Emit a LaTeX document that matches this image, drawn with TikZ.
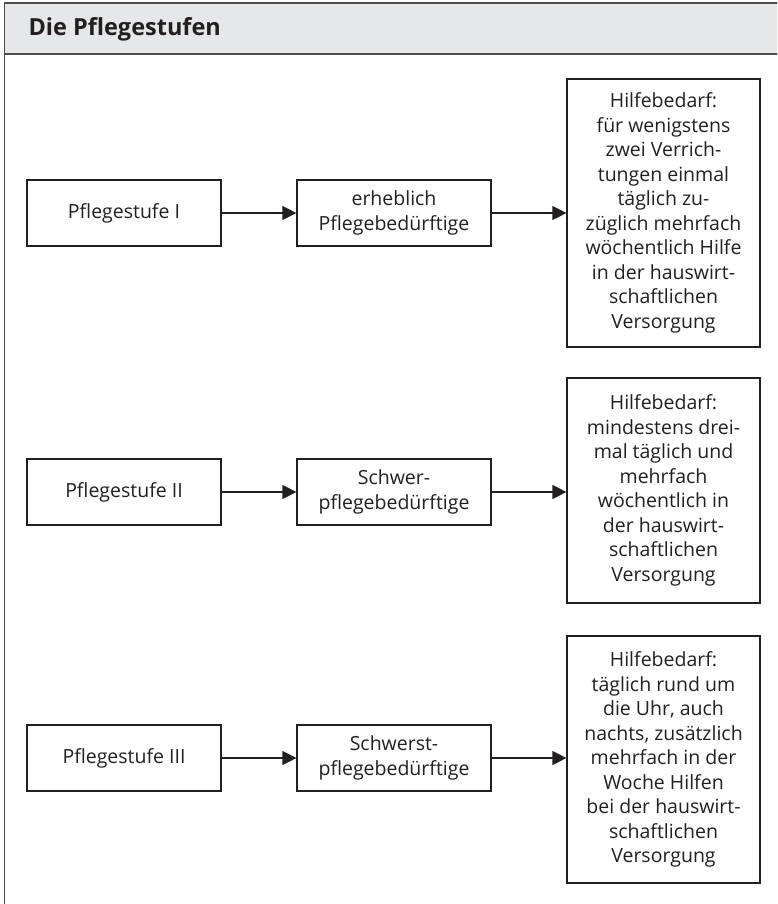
\documentclass[tikz,border=0pt]{standalone}
\usepackage{fontspec}
\setmainfont{Open Sans}
\usetikzlibrary{arrows.meta}
\definecolor{ink}{HTML}{231F20}
\definecolor{framecol}{HTML}{4D4D4F}
\definecolor{headfill}{HTML}{E6E7E8}
\begin{document}
\begin{tikzpicture}[x=1pt,y=-1pt,
  box/.style={draw=ink, line width=1.2pt, align=center, text=ink,
    font=\fontsize{19.5}{24.5}\selectfont, inner sep=0pt},
  stage/.style={box, minimum width=194pt, minimum height=66pt},
  need/.style={box, minimum width=193pt},
  conn/.style={draw=ink, line width=1.2pt, -{Triangle[length=14pt,width=14pt]}}]
\useasboundingbox (0,0) rectangle (777,904);
\begin{scope}
\clip (0,0) rectangle (777,904);
\fill[headfill] (4.5,3) rectangle (800,54);
\draw[framecol, line width=1.8pt] (4.5,920) -- (4.5,3) -- (800,3);
\draw[framecol, line width=1.5pt] (4.5,54) -- (800,54);
\end{scope}
\node[anchor=base west, text=ink, font=\fontsize{23.5}{28}\selectfont\bfseries] (title) at (25,36) {Die Pflegestufen};

% row 1
\node[stage] (a1) at (124,213) {Pflegestufe I};
\node[stage] (b1) at (394,213) {erheblich\\Pflegebedürftige};
\node[need, minimum height=268pt] (c1) at (663.5,213) {Hilfebedarf:\\für wenigstens\\zwei Verrich-\\tungen einmal\\täglich zu-\\züglich mehrfach\\wöchentlich Hilfe\\in der hauswirt-\\schaftlichen\\Versorgung};
% row 2
\node[stage] (a2) at (124,492) {Pflegestufe II};
\node[stage] (b2) at (394,492) {Schwer-\\pflegebedürftige};
\node[need, minimum height=225pt] (c2) at (663.5,490.5) {Hilfebedarf:\\mindestens drei-\\mal täglich und\\mehrfach\\wöchentlich in\\der hauswirt-\\schaftlichen\\Versorgung};
% row 3
\node[stage] (a3) at (124,758) {Pflegestufe III};
\node[stage] (b3) at (394,758) {Schwerst-\\pflegebedürftige};
\node[need, minimum height=247pt] (c3) at (663.5,759.5) {Hilfebedarf:\\täglich rund um\\die Uhr, auch\\nachts, zusätzlich\\mehrfach in der\\Woche Hilfen\\bei der hauswirt-\\schaftlichen\\Versorgung};

\draw[conn] (a1.east) -- (b1.west);
\draw[conn] (b1.east) -- (b1.east -| c1.west);
\draw[conn] (a2.east) -- (b2.west);
\draw[conn] (b2.east) -- (b2.east -| c2.west);
\draw[conn] (a3.east) -- (b3.west);
\draw[conn] (b3.east) -- (b3.east -| c3.west);
\end{tikzpicture}
\end{document}
